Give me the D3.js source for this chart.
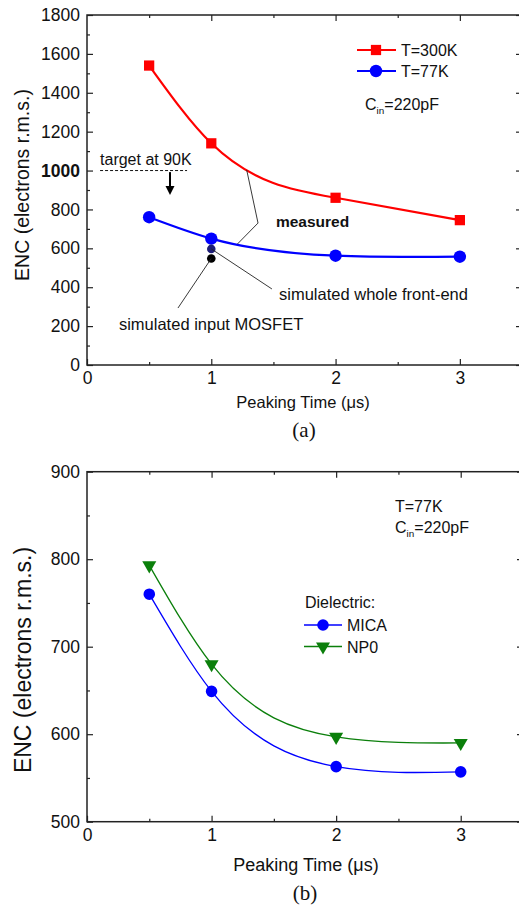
<!DOCTYPE html>
<html>
<head>
<meta charset="utf-8">
<script src="https://cdn.jsdelivr.net/npm/d3@7/dist/d3.min.js"></script>
<style>
  html, body { margin: 0; padding: 0; background: #fff; }
  svg { display: block; }
  text { font-family: "Liberation Sans", Arial, sans-serif; fill: #111; }
  .serif { font-family: "Liberation Serif", "Times New Roman", serif; }
</style>
</head>
<body>
<svg id="fig" width="519" height="908"></svg>
<script>
// ---- data ----
const peakTimes = [0.5, 1, 2, 3];             // peaking time, µs
const enc300K   = [1540, 1140, 860, 745];     // measured ENC, T = 300 K
const enc77K    = [760, 650, 562, 557];       // measured ENC, T = 77 K
const simTime        = [1];
const simWholeFront  = [597];                 // simulated whole front-end
const simInputMosfet = [548];                 // simulated input MOSFET
const targetENC = 1000;                       // target at 90 K

const encMica = [760, 649, 563, 557];         // dielectric: MICA
const encNp0  = [793, 680, 597, 590];         // dielectric: NP0

const xTickVals  = [0, 1, 2, 3];
const xMinorVals = [0.5, 1.5, 2.5];
const yTicksA    = [0, 200, 400, 600, 800, 1000, 1200, 1400, 1600, 1800];
const yMinorA    = [100, 300, 500, 700, 900, 1100, 1300, 1500, 1700];
const yTicksB    = [500, 600, 700, 800, 900];
const yMinorB    = [550, 650, 750, 850];

const RED = "#ff0000", BLUE = "#0000ff", GREEN = "#0b7f0b", NAVY = "#1e1e78";

// Natural cubic spline parameterised by x, emitted as exact Bézier segments.
function curveSplineX(context) {
  return {
    areaStart() {}, areaEnd() {},
    lineStart() { this._x = []; this._y = []; },
    point(x, y) { this._x.push(+x); this._y.push(+y); },
    lineEnd() {
      const X = this._x, Y = this._y, n = X.length;
      if (!n) return;
      context.moveTo(X[0], Y[0]);
      if (n < 3) { for (let i = 1; i < n; i++) context.lineTo(X[i], Y[i]); return; }
      const h = d3.range(n - 1).map(i => X[i + 1] - X[i]);
      const M = new Array(n).fill(0);
      // tridiagonal solve for interior second derivatives
      const c = [], r = [];
      for (let i = 1; i < n - 1; i++) {
        const a = h[i - 1], b = 2 * (h[i - 1] + h[i]), cc = h[i];
        let rhs = 6 * ((Y[i + 1] - Y[i]) / h[i] - (Y[i] - Y[i - 1]) / h[i - 1]);
        let bb = b;
        if (i > 1) { bb -= a * c[i - 1]; rhs -= a * r[i - 1]; }
        c[i] = cc / bb; r[i] = rhs / bb;
      }
      for (let i = n - 2; i >= 1; i--) M[i] = r[i] - (i < n - 2 ? c[i] * M[i + 1] : 0);
      for (let i = 0; i < n - 1; i++) {
        const hi = h[i], s = (Y[i + 1] - Y[i]) / hi;
        const d0 = s - hi * (2 * M[i] + M[i + 1]) / 6;
        const d1 = s + hi * (M[i] + 2 * M[i + 1]) / 6;
        context.bezierCurveTo(X[i] + hi / 3, Y[i] + d0 * hi / 3,
                              X[i + 1] - hi / 3, Y[i + 1] - d1 * hi / 3,
                              X[i + 1], Y[i + 1]);
      }
    }
  };
}

const svg = d3.select("#fig");

// ---- scales ----
const xA = d3.scaleLinear([0, 3.5], [87, 522]);
const yA = d3.scaleLinear([0, 1800], [365, 15]);
const xB = d3.scaleLinear([0, 3.5], [87, 523]);
const yB = d3.scaleLinear([500, 900], [821.7, 471.7]);

function frame(x, y, yTicks, yMinor, tickFont, boldTick) {
  const g = svg.append("g");
  const [x0, x1] = x.range(), [y0, y1] = y.range();
  const strip = sel => sel.select(".domain").remove();

  // bottom (labelled) and top
  g.append("g").attr("transform", `translate(0,${y0})`)
    .call(d3.axisBottom(x).tickValues(xTickVals).tickFormat(d3.format("d"))
      .tickSize(-6).tickPadding(7)).call(strip)
    .call(s => s.selectAll("text").style("font-size", tickFont + "px").style("font-family", null));
  g.append("g").attr("transform", `translate(0,${y0})`)
    .call(d3.axisBottom(x).tickValues(xMinorVals).tickFormat("").tickSize(-3)).call(strip);
  g.append("g").attr("transform", `translate(0,${y1})`)
    .call(d3.axisTop(x).tickValues(xTickVals.filter(v => v > 0)).tickFormat("").tickSize(-6)).call(strip);
  g.append("g").attr("transform", `translate(0,${y1})`)
    .call(d3.axisTop(x).tickValues(xMinorVals).tickFormat("").tickSize(-3)).call(strip);

  // left (labelled) and right
  g.append("g").attr("transform", `translate(${x0},0)`)
    .call(d3.axisLeft(y).tickValues(yTicks).tickFormat(d3.format("d"))
      .tickSize(-6).tickPadding(7)).call(strip)
    .call(s => s.selectAll("text").style("font-size", tickFont + "px").style("font-family", null)
      .style("font-weight", d => d === boldTick ? "bold" : null));
  g.append("g").attr("transform", `translate(${x0},0)`)
    .call(d3.axisLeft(y).tickValues(yMinor).tickFormat("").tickSize(-3)).call(strip);
  g.append("g").attr("transform", `translate(${x1},0)`)
    .call(d3.axisRight(y).tickValues(yTicks).tickFormat("").tickSize(-6)).call(strip);
  g.append("g").attr("transform", `translate(${x1},0)`)
    .call(d3.axisRight(y).tickValues(yMinor).tickFormat("").tickSize(-3)).call(strip);

  g.selectAll(".tick line").attr("stroke", "#222").attr("stroke-width", 1.2);
  g.selectAll(".tick text").attr("fill", "#111");

  g.append("rect")
    .attr("x", x0).attr("y", y1).attr("width", x1 - x0).attr("height", y0 - y1)
    .attr("fill", "none").attr("stroke", "#222").attr("stroke-width", 1.5);
  return g;
}

function curve(x, y, vals, color, width) {
  const line = d3.line().x((d, i) => x(peakTimes[i])).y(d => y(d)).curve(curveSplineX);
  svg.append("path").datum(vals).attr("d", line)
    .attr("fill", "none").attr("stroke", color).attr("stroke-width", width);
}

const sq = d3.symbol().type(d3.symbolSquare).size(105);
const circ = r => d3.symbol().type(d3.symbolCircle).size(Math.PI * r * r);
const tri = d3.symbol().type(d3.symbolTriangle).size(85);

function markers(x, y, vals, path, color, rot) {
  svg.append("g").selectAll("path").data(vals).join("path")
    .attr("d", path)
    .attr("transform", (d, i) => `translate(${x(peakTimes[i])},${y(d)})` + (rot ? ` rotate(${rot})` : ""))
    .attr("fill", color);
}

function inText(g, x, y, size) {
  // "C_in=220pF"
  const t = g.append("text").attr("x", x).attr("y", y).style("font-size", size + "px");
  t.append("tspan").text("C");
  t.append("tspan").attr("dy", 4).style("font-size", (size * 0.62) + "px").text("in");
  t.append("tspan").attr("dy", -4).text("=220pF");
  return t;
}

// =================== panel (a) ===================
frame(xA, yA, yTicksA, yMinorA, 17.5, 1000);

curve(xA, yA, enc300K, RED, 2.2);
curve(xA, yA, enc77K, BLUE, 2.2);
markers(xA, yA, enc300K, sq(), RED);
markers(xA, yA, enc77K, circ(6.2)(), BLUE);

// simulated points
svg.append("circle").attr("cx", xA(simTime[0])).attr("cy", yA(simWholeFront[0])).attr("r", 4.3).attr("fill", NAVY);
svg.append("circle").attr("cx", xA(simTime[0])).attr("cy", yA(simInputMosfet[0])).attr("r", 4.3).attr("fill", "#000");

// target line and arrow
svg.append("line")
  .attr("x1", xA(0.105)).attr("x2", xA(0.805))
  .attr("y1", yA(targetENC)).attr("y2", yA(targetENC))
  .attr("stroke", "#111").attr("stroke-width", 1).attr("stroke-dasharray", "3,2");
svg.append("text").attr("x", xA(0.105)).attr("y", yA(1030)).style("font-size", "16px").text("target at 90K");
{
  const ax = xA(0.668), yTop = yA(992), yTip = yA(874);
  svg.append("line").attr("x1", ax).attr("x2", ax).attr("y1", yTop).attr("y2", yTip - 6)
    .attr("stroke", "#000").attr("stroke-width", 2);
  svg.append("path").attr("d", `M${ax - 4.5},${yTip - 9}L${ax + 4.5},${yTip - 9}L${ax},${yTip}Z`).attr("fill", "#000");
}

// annotation leaders
const leader = (pts) => svg.append("path")
  .attr("d", d3.line().x(d => xA(d[0])).y(d => yA(d[1]))(pts))
  .attr("fill", "none").attr("stroke", "#222").attr("stroke-width", 0.9);
leader([[1.285, 1003], [1.376, 730], [1.21, 622]]);
leader([[1, simWholeFront[0]], [1.488, 391]]);
leader([[1, simInputMosfet[0]], [0.732, 293]]);

svg.append("text").attr("x", xA(1.52)).attr("y", yA(710))
  .style("font-size", "15.5px").style("font-weight", "bold").text("measured");
svg.append("text").attr("x", xA(1.545)).attr("y", yA(334))
  .style("font-size", "16.5px").text("simulated whole front-end");
svg.append("text").attr("x", xA(0.257)).attr("y", yA(180))
  .style("font-size", "16.5px").text("simulated input MOSFET");

// legend (a)
{
  const lg = svg.append("g");
  const rows = [{ label: "T=300K", color: RED, sym: sq(), y: 50 },
                { label: "T=77K", color: BLUE, sym: circ(6.2)(), y: 71 }];
  rows.forEach(r => {
    lg.append("line").attr("x1", 357).attr("x2", 396).attr("y1", r.y).attr("y2", r.y)
      .attr("stroke", r.color).attr("stroke-width", 2.2);
    lg.append("path").attr("d", r.sym).attr("transform", `translate(376,${r.y})`).attr("fill", r.color);
    lg.append("text").attr("x", 401).attr("y", r.y + 6).style("font-size", "16px").text(r.label);
  });
  inText(lg, 365, 110, 16);
}

// axis titles (a)
svg.append("text").attr("transform", "translate(28.5,185) rotate(-90)")
  .attr("text-anchor", "middle").style("font-size", "19.5px").text("ENC (electrons r.m.s.)");
svg.append("text").attr("x", 303).attr("y", 407.5)
  .attr("text-anchor", "middle").style("font-size", "16.5px").text("Peaking Time (\u03BCs)");
svg.append("text").attr("class", "serif").attr("x", 304).attr("y", 437)
  .attr("text-anchor", "middle").style("font-size", "21px").text("(a)");

// =================== panel (b) ===================
frame(xB, yB, yTicksB, yMinorB, 17.5, null);

curve(xB, yB, encMica, BLUE, 1.3);
curve(xB, yB, encNp0, GREEN, 1.3);
markers(xB, yB, encMica, circ(5.8)(), BLUE);
markers(xB, yB, encNp0, tri(), GREEN, 180);

svg.append("text").attr("x", 395).attr("y", 512).style("font-size", "16px").text("T=77K");
inText(svg, 395, 533, 16);

// legend (b)
{
  const lg = svg.append("g");
  lg.append("text").attr("x", 305).attr("y", 608).style("font-size", "16px").text("Dielectric:");
  const rows = [{ label: "MICA", color: BLUE, sym: circ(5.8)(), y: 625, rot: 0 },
                { label: "NP0", color: GREEN, sym: tri(), y: 646.5, rot: 180 }];
  rows.forEach(r => {
    lg.append("line").attr("x1", 304).attr("x2", 342).attr("y1", r.y).attr("y2", r.y)
      .attr("stroke", r.color).attr("stroke-width", 1.3);
    lg.append("path").attr("d", r.sym).attr("transform", `translate(323,${r.y}) rotate(${r.rot})`).attr("fill", r.color);
    lg.append("text").attr("x", 347).attr("y", r.y + 6).style("font-size", "16px").text(r.label);
  });
}

// axis titles (b)
svg.append("text").attr("transform", "translate(30.5,660) rotate(-90)")
  .attr("text-anchor", "middle").style("font-size", "23px").text("ENC (electrons r.m.s.)");
svg.append("text").attr("x", 306).attr("y", 871)
  .attr("text-anchor", "middle").style("font-size", "18px").text("Peaking Time (\u03BCs)");
svg.append("text").attr("class", "serif").attr("x", 305).attr("y", 900)
  .attr("text-anchor", "middle").style("font-size", "21px").text("(b)");
</script>
</body>
</html>
